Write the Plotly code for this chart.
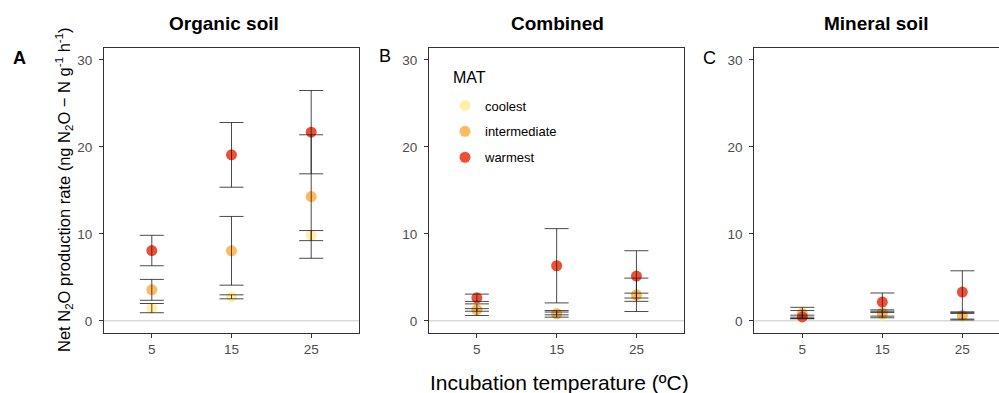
import plotly.graph_objects as go

temps = [5, 15, 25]
groups = ["coolest", "intermediate", "warmest"]
panel_titles = ["Organic soil", "Combined", "Mineral soil"]
panel_letters = ["A", "B", "C"]
y_ticks = [0, 10, 20, 30]
x_ticks = [5, 15, 25]

organic_coolest = [1.46, 2.76, 9.80]
organic_coolest_err = [0.53, 0.23, 0.58]
organic_intermediate = [3.56, 8.05, 14.29]
organic_intermediate_err = [1.20, 3.95, 7.10]
organic_warmest = [8.08, 19.08, 21.69]
organic_warmest_err = [1.75, 3.72, 4.79]

combined_coolest = [1.25, 0.85, 2.90]
combined_coolest_err = [0.15, 0.16, 0.28]
combined_intermediate = [1.28, 0.80, 2.99]
combined_intermediate_err = [0.67, 0.38, 1.92]
combined_warmest = [2.65, 6.33, 5.15]
combined_warmest_err = [0.42, 4.27, 2.91]

mineral_coolest = [0.90, 0.65, 0.55]
mineral_coolest_err = [0.65, 0.30, 0.45]
mineral_intermediate = [0.80, 0.90, 0.60]
mineral_intermediate_err = [0.38, 0.36, 0.40]
mineral_warmest = [0.45, 2.15, 3.30]
mineral_warmest_err = [0.20, 1.05, 2.45]

colors = {"coolest": "#FFEDA0", "intermediate": "#FEB24C", "warmest": "#F03B20"}

panels = [
    [(organic_coolest, organic_coolest_err), (organic_intermediate, organic_intermediate_err),
     (organic_warmest, organic_warmest_err)],
    [(combined_coolest, combined_coolest_err), (combined_intermediate, combined_intermediate_err),
     (combined_warmest, combined_warmest_err)],
    [(mineral_coolest, mineral_coolest_err), (mineral_intermediate, mineral_intermediate_err),
     (mineral_warmest, mineral_warmest_err)],
]

W, H = 999, 393
FONT = "Liberation Sans, Arial, sans-serif"
x_domains = [[104 / W, 359 / W], [429 / W, 684.3 / W], [754.3 / W, 1.0]]
y_domain = [60 / H, 345.3 / H]
x_ranges = [[-1, 31], [-1, 31], [-1, 29.58]]
y_range = [-1.4, 31.4]

fig = go.Figure()
for p, series in enumerate(panels):
    xa = "x" if p == 0 else f"x{p + 1}"
    ya = "y" if p == 0 else f"y{p + 1}"
    for g, (vals, errs) in zip(groups, series):
        fig.add_trace(go.Scatter(
            x=temps, y=vals, mode="markers", xaxis=xa, yaxis=ya,
            name=g, legendgroup=g, showlegend=(p == 1),
            marker=dict(color=colors[g], size=11, opacity=0.9, line=dict(width=0)),
        ))
    for g, (vals, errs) in zip(groups, series):
        fig.add_trace(go.Scatter(
            x=temps, y=vals, mode="markers", xaxis=xa, yaxis=ya, showlegend=False,
            marker=dict(color="rgba(0,0,0,0)", size=1),
            error_y=dict(type="data", array=errs, symmetric=True,
                         color="rgba(30,30,30,0.8)", thickness=1, width=12),
            hoverinfo="skip",
        ))
    fig.add_shape(type="line", xref=f"{xa} domain", yref=ya, x0=0, x1=1, y0=0, y1=0,
                  line=dict(color="#C8C8C8", width=1), layer="below")

    axis_common = dict(showgrid=False, zeroline=False, ticks="outside", ticklen=4,
                       tickcolor="#333333", linecolor="#333333", linewidth=1.2, showline=True,
                       tickfont=dict(family=FONT, size=13.5, color="#4D4D4D"))
    xkey = "xaxis" if p == 0 else f"xaxis{p + 1}"
    ykey = "yaxis" if p == 0 else f"yaxis{p + 1}"
    fig.update_layout({
        xkey: dict(domain=x_domains[p], range=x_ranges[p], tickvals=x_ticks, anchor=ya,
                   mirror=True, **axis_common),
        ykey: dict(domain=y_domain, range=y_range, tickvals=y_ticks, anchor=xa,
                   mirror=(p != 2), ticklabelstandoff=4, **axis_common),
    })

title_x = [223.5, 557.5, 876.3]
for t, x in zip(panel_titles, title_x):
    fig.add_annotation(text=f"<b>{t}</b>", x=x / W, y=1 - 23 / H, xref="paper", yref="paper",
                       showarrow=False, xanchor="center", yanchor="middle",
                       font=dict(family=FONT, size=19, color="black"))

letter_pos = [(19, 58, True), (385, 56, False), (709, 58, False)]
for lt, (x, y, bold) in zip(panel_letters, letter_pos):
    fig.add_annotation(text=f"<b>{lt}</b>" if bold else lt, x=x / W, y=1 - y / H,
                       xref="paper", yref="paper", showarrow=False, xanchor="center",
                       yanchor="middle", font=dict(family=FONT, size=18, color="black"))

fig.add_annotation(text="Incubation temperature (ºC)", x=559 / W, y=1 - 382 / H,
                   xref="paper", yref="paper", showarrow=False, xanchor="center",
                   yanchor="middle", font=dict(family=FONT, size=21, color="black"))
fig.add_annotation(text="Net N<sub>2</sub>O production rate (ng N<sub>2</sub>O − N g<sup>-1</sup> h<sup>-1</sup>)",
                   x=64 / W, y=1 - 190 / H, xref="paper", yref="paper", showarrow=False,
                   textangle=-90, xanchor="center", yanchor="middle",
                   font=dict(family=FONT, size=16.5, color="black"))
fig.add_annotation(text="MAT", x=451 / W, y=1 - 77 / H, xref="paper", yref="paper",
                   showarrow=False, xanchor="left", yanchor="middle",
                   font=dict(family=FONT, size=16, color="black"))

fig.update_layout(
    width=W, height=H, margin=dict(l=0, r=0, t=0, b=0),
    paper_bgcolor="white", plot_bgcolor="white",
    legend=dict(x=445 / W, y=1 - 90.5 / H, xanchor="left", yanchor="top",
                bgcolor="rgba(0,0,0,0)", tracegroupgap=6,
                font=dict(family=FONT, size=13, color="black")),
)

fig.write_html("out.html", config={"displayModeBar": False},
               post_script="document.body.style.margin='0px';")
